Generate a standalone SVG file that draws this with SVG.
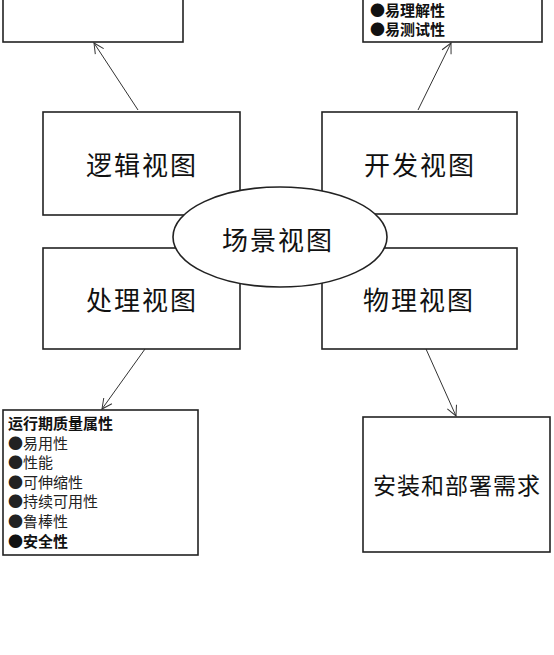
<svg xmlns="http://www.w3.org/2000/svg" width="554" height="655" viewBox="0 0 554 655">
<defs>
<marker id="arr" viewBox="0 0 12 12" refX="11" refY="6" markerWidth="12" markerHeight="12" markerUnits="userSpaceOnUse" orient="auto">
<path d="M1,1 L11,6 L1,11" fill="none" stroke="#333" stroke-width="1"/>
</marker>
<style>
.box{fill:#fff;stroke:#222;stroke-width:1.6}
.conn{fill:none;stroke:#333;stroke-width:1;marker-end:url(#arr)}
.big{font-family:"Noto Sans CJK SC","Noto Sans",sans-serif;font-size:26px;fill:#111;text-anchor:middle;letter-spacing:2px}
.mid{font-family:"Noto Sans CJK SC","Noto Sans",sans-serif;font-size:23px;fill:#111;text-anchor:middle;letter-spacing:1px}
.sm{font-family:"Noto Sans CJK SC","Noto Sans",sans-serif;font-size:15px;fill:#222}
.b{font-weight:600;fill:#111}
</style>
</defs>
<rect width="554" height="655" fill="#fff"/>
<g id="connectors">
<line class="conn" x1="138" y1="110" x2="94" y2="43"/>
<line class="conn" x1="418" y1="110" x2="451" y2="43"/>
<line class="conn" x1="145" y1="349" x2="102" y2="409"/>
<line class="conn" x1="426" y1="349" x2="456" y2="416"/>
</g>
<g id="quality-top-left">
<rect class="box" x="3" y="-10" width="180" height="52"/>
</g>
<g id="quality-top-right">
<rect class="box" x="363" y="-10" width="179" height="52"/>
<text class="sm b" x="370" y="16">●易理解性</text>
<text class="sm b" x="370" y="35">●易测试性</text>
</g>
<g id="logic-view">
<rect class="box" x="43" y="112" width="197" height="103"/>
<text class="big" x="142" y="175">逻辑视图</text>
</g>
<g id="dev-view">
<rect class="box" x="322" y="112" width="195" height="102"/>
<text class="big" x="420" y="175">开发视图</text>
</g>
<g id="process-view">
<rect class="box" x="43" y="248" width="197" height="101"/>
<text class="big" x="142" y="310">处理视图</text>
</g>
<g id="physical-view">
<rect class="box" x="322" y="248" width="195" height="101"/>
<text class="big" x="419" y="310">物理视图</text>
</g>
<g id="scene-view">
<ellipse class="box" cx="280" cy="237" rx="107" ry="50"/>
<text class="big" x="278" y="250">场景视图</text>
</g>
<g id="runtime-quality">
<rect class="box" x="3" y="410" width="195" height="145"/>
<text class="sm b" x="8" y="429">运行期质量属性</text>
<text class="sm" x="8" y="449">●易用性</text>
<text class="sm" x="8" y="468">●性能</text>
<text class="sm" x="8" y="488">●可伸缩性</text>
<text class="sm" x="8" y="507">●持续可用性</text>
<text class="sm" x="8" y="527">●鲁棒性</text>
<text class="sm b" x="8" y="547">●安全性</text>
</g>
<g id="install-deploy">
<rect class="box" x="363" y="417" width="187" height="135"/>
<text class="mid" x="457" y="494">安装和部署需求</text>
</g>
</svg>
